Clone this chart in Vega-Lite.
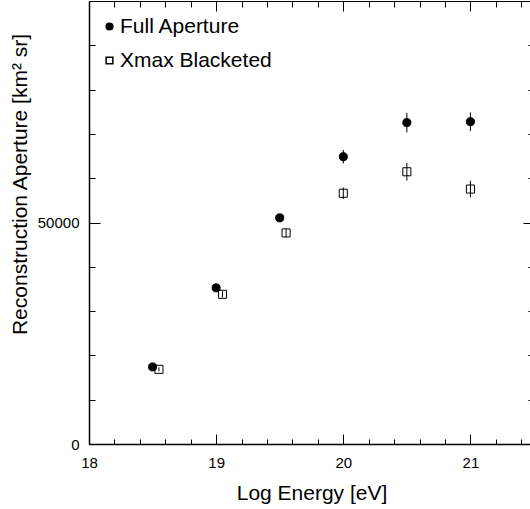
{
  "$schema": "https://vega.github.io/schema/vega-lite/v6.json",
  "width": 445,
  "height": 443,
  "autosize": "none",
  "padding": {"left": 89, "top": 1, "right": 0, "bottom": 65},
  "background": "white",
  "config": {
    "font": "Liberation Sans",
    "view": {"stroke": "black", "strokeWidth": 1},
    "axis": {"labelColor": "black", "titleColor": "black", "tickColor": "black", "domainColor": "black", "grid": false, "labelFlush": false, "labelOverlap": false, "labelBound": false, "titleFontWeight": "normal"}
  },
  "datasets": {
    "pts": [
      {"series": "Full Aperture", "energy": 18.5, "ap": 17400, "lo": 17000, "hi": 17800},
      {"series": "Full Aperture", "energy": 19.0, "ap": 35250, "lo": 34700, "hi": 35800},
      {"series": "Full Aperture", "energy": 19.5, "ap": 51050, "lo": 50300, "hi": 51800},
      {"series": "Full Aperture", "energy": 20.0, "ap": 64850, "lo": 63300, "hi": 66400},
      {"series": "Full Aperture", "energy": 20.5, "ap": 72550, "lo": 70350, "hi": 74750},
      {"series": "Full Aperture", "energy": 21.0, "ap": 72750, "lo": 70650, "hi": 74850},
      {"series": "Xmax Blacketed", "energy": 18.55, "ap": 16850, "lo": 16400, "hi": 17300},
      {"series": "Xmax Blacketed", "energy": 19.05, "ap": 33800, "lo": 33100, "hi": 34500},
      {"series": "Xmax Blacketed", "energy": 19.55, "ap": 47650, "lo": 46650, "hi": 48650},
      {"series": "Xmax Blacketed", "energy": 20.0, "ap": 56600, "lo": 55300, "hi": 57900},
      {"series": "Xmax Blacketed", "energy": 20.5, "ap": 61450, "lo": 59450, "hi": 63450},
      {"series": "Xmax Blacketed", "energy": 21.0, "ap": 57550, "lo": 55650, "hi": 59450}
    ]
  },
  "data": {"name": "pts"},
  "resolve": {"axis": {"x": "independent", "y": "independent"}},
  "layer": [
    {
      "mark": {"type": "point", "opacity": 0},
      "encoding": {
        "x": {"field": "energy", "type": "quantitative", "scale": {"domain": [18, 21.5], "nice": false, "zero": false},
          "axis": {"orient": "bottom", "values": [18, 19, 20, 21], "ticks": false, "labelPadding": 11, "labelFontSize": 15, "domain": true, "domainWidth": 1.5,
            "title": "Log Energy [eV]", "titleFontSize": 21, "titleBaseline": "alphabetic", "titleY": 55, "titleAnchor": "middle"}},
        "y": {"field": "ap", "type": "quantitative", "scale": {"domain": [0, 100000], "nice": false, "zero": true},
          "axis": {"orient": "left", "values": [0, 50000], "format": "d", "ticks": false, "labelPadding": 10, "labelFontSize": 15, "domain": true, "domainWidth": 1.5,
            "title": "Reconstruction Aperture  [km² sr]", "titleFontSize": 21, "titleBaseline": "alphabetic", "titleAngle": 270, "titleX": -63, "titleY": 183, "titleAlign": "center", "titleAnchor": "middle"}}
      }
    },
    {
      "mark": {"type": "point", "opacity": 0},
      "encoding": {
        "x": {"field": "energy", "type": "quantitative", "scale": {"domain": [18, 21.5], "nice": false, "zero": false},
          "axis": {"orient": "bottom", "values": [18, 19, 20, 21], "labels": false, "domain": false, "tickSize": -10, "tickWidth": 1, "title": null}},
        "y": {"field": "ap", "type": "quantitative", "scale": {"domain": [0, 100000], "nice": false, "zero": true},
          "axis": {"orient": "left", "values": [0, 50000, 100000], "labels": false, "domain": false, "tickSize": -11, "tickWidth": 1, "title": null}}
      }
    },
    {
      "mark": {"type": "point", "opacity": 0},
      "encoding": {
        "x": {"field": "energy", "type": "quantitative", "scale": {"domain": [18, 21.5], "nice": false, "zero": false},
          "axis": {"orient": "bottom", "values": [18.2, 18.4, 18.6, 18.8, 19.2, 19.4, 19.6, 19.8, 20.2, 20.4, 20.6, 20.8, 21.2, 21.4], "labels": false, "domain": false, "tickSize": -5, "tickWidth": 1, "title": null}},
        "y": {"field": "ap", "type": "quantitative", "scale": {"domain": [0, 100000], "nice": false, "zero": true},
          "axis": {"orient": "left", "values": [10000, 20000, 30000, 40000, 60000, 70000, 80000, 90000], "labels": false, "domain": false, "tickSize": -6, "tickWidth": 1, "title": null}}
      }
    },
    {
      "mark": {"type": "point", "opacity": 0},
      "encoding": {
        "x": {"field": "energy", "type": "quantitative", "scale": {"domain": [18, 21.5], "nice": false, "zero": false},
          "axis": {"orient": "top", "values": [18, 19, 20, 21], "labels": false, "domain": false, "tickSize": -10, "tickWidth": 1, "title": null}},
        "y": {"field": "ap", "type": "quantitative", "scale": {"domain": [0, 100000], "nice": false, "zero": true},
          "axis": {"orient": "right", "values": [0, 50000, 100000], "labels": false, "domain": false, "tickSize": -11, "tickWidth": 1, "title": null}}
      }
    },
    {
      "mark": {"type": "point", "opacity": 0},
      "encoding": {
        "x": {"field": "energy", "type": "quantitative", "scale": {"domain": [18, 21.5], "nice": false, "zero": false},
          "axis": {"orient": "top", "values": [18.2, 18.4, 18.6, 18.8, 19.2, 19.4, 19.6, 19.8, 20.2, 20.4, 20.6, 20.8, 21.2, 21.4], "labels": false, "domain": false, "tickSize": -6, "tickWidth": 1, "title": null}},
        "y": {"field": "ap", "type": "quantitative", "scale": {"domain": [0, 100000], "nice": false, "zero": true},
          "axis": {"orient": "right", "values": [10000, 20000, 30000, 40000, 60000, 70000, 80000, 90000], "labels": false, "domain": false, "tickSize": -6, "tickWidth": 1, "title": null}}
      }
    },
    {
      "mark": {"type": "rule", "color": "black", "strokeWidth": 1},
      "encoding": {
        "x": {"field": "energy", "type": "quantitative", "scale": {"domain": [18, 21.5], "nice": false, "zero": false}, "axis": null},
        "y": {"field": "lo", "type": "quantitative", "scale": {"domain": [0, 100000], "nice": false, "zero": true}, "axis": null},
        "y2": {"field": "hi"}
      }
    },
    {
      "mark": {"type": "point", "size": 65, "strokeWidth": 1, "opacity": 1, "color": "black"},
      "encoding": {
        "x": {"field": "energy", "type": "quantitative", "scale": {"domain": [18, 21.5], "nice": false, "zero": false}, "axis": null},
        "y": {"field": "ap", "type": "quantitative", "scale": {"domain": [0, 100000], "nice": false, "zero": true}, "axis": null},
        "shape": {"field": "series", "type": "nominal", "scale": {"domain": ["Full Aperture", "Xmax Blacketed"], "range": ["circle", "square"]},
          "legend": {"orient": "none", "legendX": 10, "legendY": 15, "title": null, "padding": 0, "symbolSize": 45, "labelFontSize": 21, "labelColor": "black", "labelOffset": 0, "rowPadding": 12,
            "encode": {"symbols": {
              "stroke": {"value": "black"},
              "strokeWidth": {"value": 1},
              "opacity": {"value": 1},
              "fillOpacity": {"value": 1},
              "strokeOpacity": {"value": 1},
              "size": {"value": 45},
              "fill": {"condition": {"test": "datum.value === 'Full Aperture'", "value": "black"}, "value": "white"}
            }}}},
        "fill": {"field": "series", "type": "nominal", "scale": {"domain": ["Full Aperture", "Xmax Blacketed"], "range": ["black", "white"]}, "legend": null},
        "fillOpacity": {"field": "series", "type": "nominal", "scale": {"domain": ["Full Aperture", "Xmax Blacketed"], "range": [1, 0]}, "legend": null}
      }
    }
  ]
}
